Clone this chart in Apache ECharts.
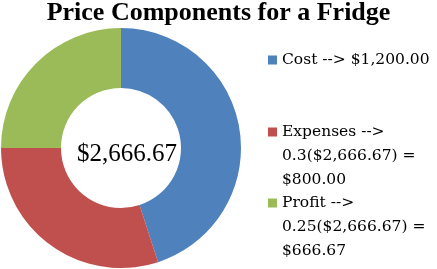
<!DOCTYPE html>
<html><head><meta charset="utf-8">
<script src="https://cdn.jsdelivr.net/npm/echarts@6/dist/echarts.min.js"></script>
<style>html,body{margin:0;padding:0;background:#fff}#c{width:437px;height:269px}</style>
</head><body><div id="c"></div>
<script>
const titleText = 'Price Components for a Fridge';
const centerText = '$2,666.67';
const categories = ['Cost', 'Expenses', 'Profit'];
const values = [1200.00, 800.00, 666.67];
const legendLabels = [
  'Cost --> $1,200.00',
  'Expenses -->\n0.3($2,666.67) =\n$800.00',
  'Profit -->\n0.25($2,666.67) =\n$666.67'
];
const colors = ['#4F81BD', '#C0504D', '#9BBB59'];
// vertical centre of each legend item's first line (icon)
const legendCentres = [60, 132, 203];

const chart = echarts.init(document.getElementById('c'), null, {renderer: 'canvas'});
const LH = 24;
const legends = categories.map((name, i) => {
  const lines = legendLabels[i].split('\n').length;
  const pad = '\n'.repeat(lines - 1);
  const total = (2 * lines - 1) * LH;
  return {
    orient: 'vertical', left: 268, top: legendCentres[i] - total / 2,
    data: [name], icon: 'rect', itemWidth: 9, itemHeight: 9, itemGap: 0,
    selectedMode: false, padding: 0,
    formatter: () => pad + legendLabels[i],
    textStyle: {fontFamily: 'DejaVu Serif', fontSize: 15.5, color: '#000', lineHeight: LH}
  };
});
chart.setOption({
  animation: false,
  color: colors,
  title: [
    {text: titleText, left: 'center', top: -5,
     textStyle: {fontFamily: 'Liberation Serif', fontSize: 26, fontWeight: 'bold', color: '#000'}},
    {text: centerText, left: 122, top: 149, textAlign: 'center', textVerticalAlign: 'middle',
     textStyle: {fontFamily: 'Liberation Serif', fontSize: 25, fontWeight: 'normal', color: '#000'}}
  ],
  legend: legends,
  series: [{
    type: 'pie', center: [121, 148], radius: [60, 120],
    startAngle: 90, clockwise: true, label: {show: false}, labelLine: {show: false},
    itemStyle: {borderWidth: 0},
    emphasis: {disabled: true},
    data: categories.map((n, i) => ({name: n, value: values[i]}))
  }]
});
</script></body></html>
